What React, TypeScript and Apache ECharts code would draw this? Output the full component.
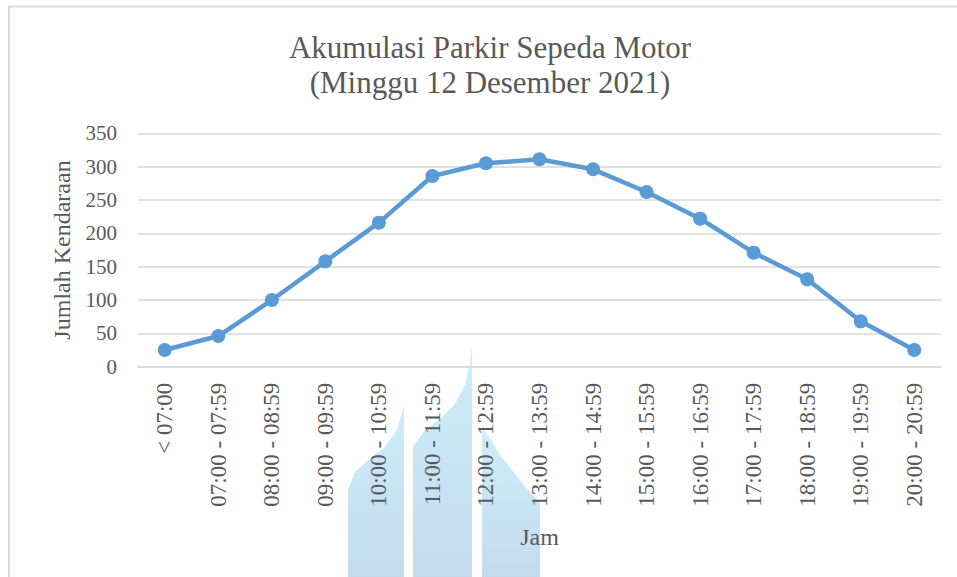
import React, { useEffect, useRef } from "react";
import * as echarts from "echarts";

const categories = [
  "< 07:00",
  "07:00 - 07:59",
  "08:00 - 08:59",
  "09:00 - 09:59",
  "10:00 - 10:59",
  "11:00 - 11:59",
  "12:00 - 12:59",
  "13:00 - 13:59",
  "14:00 - 14:59",
  "15:00 - 15:59",
  "16:00 - 16:59",
  "17:00 - 17:59",
  "18:00 - 18:59",
  "19:00 - 19:59",
  "20:00 - 20:59",
];
const values = [25, 46, 100, 158, 216, 286, 305, 311, 296, 262, 222, 171, 131, 68, 25];
const titleLines = ["Akumulasi Parkir Sepeda Motor", "(Minggu 12 Desember 2021)"];
const yName = "Jumlah Kendaraan";
const xName = "Jam";

const FONT = "Liberation Serif";
const GRAY = "#595959";

const wmFill = () =>
  new echarts.graphic.LinearGradient(0, 0, 0, 1, [
    { offset: 0, color: "rgba(198,236,248,0.9)" },
    { offset: 1, color: "rgba(190,215,238,0.9)" },
  ]);

export default function App() {
  const ref = useRef<HTMLDivElement>(null);
  useEffect(() => {
    if (!ref.current) return;
    const chart = echarts.init(ref.current, null, { renderer: "svg" });
    chart.setOption({
      animation: false,
      backgroundColor: "#ffffff",
      graphic: [
        {
          type: "rect",
          z: -20,
          silent: true,
          shape: { x: 9, y: 6.5, width: 1000, height: 700 },
          style: { fill: "none", stroke: "#d9d9d9", lineWidth: 2 },
        },
        {
          type: "text",
          z: 10,
          x: 490,
          y: 47,
          style: {
            text: titleLines[0],
            fontFamily: FONT,
            fontSize: 31,
            fill: GRAY,
            align: "center",
            verticalAlign: "middle",
          },
        },
        {
          type: "text",
          z: 10,
          x: 490,
          y: 82,
          style: {
            text: titleLines[1],
            fontFamily: FONT,
            fontSize: 31,
            fill: GRAY,
            align: "center",
            verticalAlign: "middle",
          },
        },
        {
          type: "polygon",
          z: -10,
          silent: true,
          shape: {
            points: [
              [348, 577], [348, 490], [355, 472], [368, 460], [385, 447],
              [397, 430], [404, 405], [404, 577],
            ],
          },
          style: { fill: wmFill() },
        },
        {
          type: "polygon",
          z: -10,
          silent: true,
          shape: {
            points: [
              [413, 577], [413, 447], [425, 430], [440, 419], [455, 404],
              [465, 385], [470, 362], [472, 345], [472, 577],
            ],
          },
          style: { fill: wmFill() },
        },
        {
          type: "polygon",
          z: -10,
          silent: true,
          shape: {
            points: [
              [482, 577], [482, 428], [490, 438], [500, 455], [515, 474],
              [528, 490], [540, 503], [540, 577],
            ],
          },
          style: { fill: wmFill() },
        },
      ],
      grid: { left: 138, right: 16, top: 133.3, bottom: 210.3, containLabel: false },
      xAxis: {
        type: "category",
        data: categories,
        boundaryGap: true,
        name: xName,
        nameLocation: "middle",
        nameGap: 158,
        nameTextStyle: { fontFamily: FONT, fontSize: 24, color: GRAY },
        axisLine: { show: true, lineStyle: { color: "#d9d9d9", width: 1.5 } },
        axisTick: { show: false },
        axisLabel: {
          rotate: 90,
          interval: 0,
          margin: 16,
          fontFamily: FONT,
          fontSize: 23,
          color: GRAY,
        },
      },
      yAxis: {
        type: "value",
        min: 0,
        max: 350,
        interval: 50,
        name: yName,
        nameLocation: "middle",
        nameGap: 64,
        nameRotate: 90,
        nameTextStyle: { fontFamily: FONT, fontSize: 24, color: GRAY },
        axisLine: { show: false },
        axisTick: { show: false },
        axisLabel: { margin: 21, fontFamily: FONT, fontSize: 21, color: GRAY },
        splitLine: { show: true, lineStyle: { color: "#d9d9d9", width: 1.5 } },
      },
      series: [
        {
          type: "line",
          data: values,
          symbol: "circle",
          symbolSize: 14,
          lineStyle: { color: "#5b9bd5", width: 4.5 },
          itemStyle: { color: "#5b9bd5" },
          z: 5,
        },
      ],
    });
    return () => chart.dispose();
  }, []);
  return (
    <div
      ref={ref}
      style={{ position: "fixed", left: 0, top: 0, width: 957, height: 577 }}
    />
  );
}
